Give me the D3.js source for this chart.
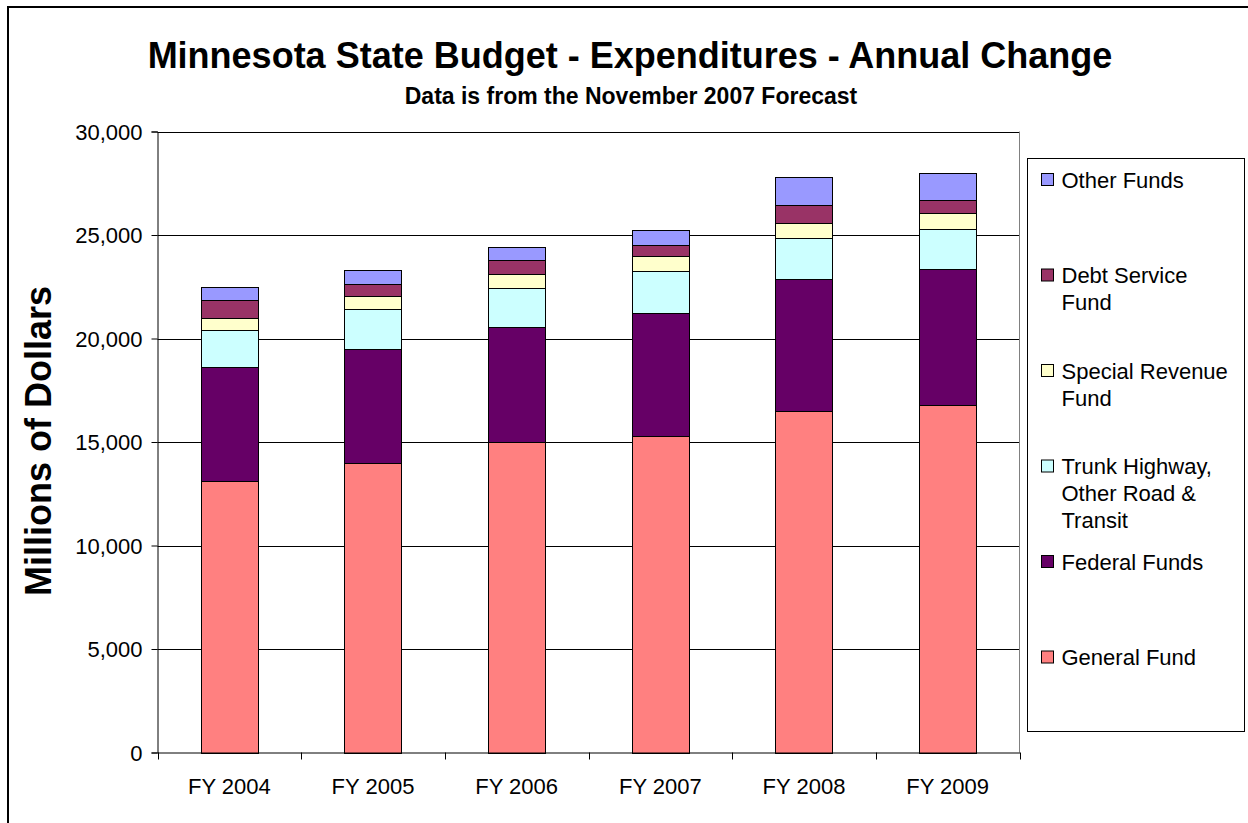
<!DOCTYPE html>
<html>
<head>
<meta charset="utf-8">
<script src="https://cdn.jsdelivr.net/npm/d3@7"></script>
<style>
  body { margin: 0; background: #fff; }
  svg text { font-family: "Liberation Sans", Arial, sans-serif; }
</style>
</head>
<body>
<div id="chart"></div>
<script>
// data (millions of dollars)
var years = ["FY 2004", "FY 2005", "FY 2006", "FY 2007", "FY 2008", "FY 2009"];
var seriesNames = ["General Fund", "Federal Funds", "Trunk Highway, Other Road & Transit",
                   "Special Revenue Fund", "Debt Service Fund", "Other Funds"];
var generalFund    = [13130, 14000, 15000, 15290, 16510, 16790];
var federalFunds   = [5510, 5495, 5573, 5946, 6355, 6588];
var trunkHighway   = [1774, 1934, 1857, 2044, 1996, 1919];
var specialRevenue = [565, 643, 706, 711, 711, 788];
var debtService    = [871, 580, 647, 517, 870, 629];
var otherFunds     = [657, 648, 658, 725, 1368, 1305];
var yTicks = [0, 5000, 10000, 15000, 20000, 25000, 30000];
// legend text, top to bottom, split the way the reference wraps it
var legendLines = [["Other Funds"], ["Debt Service", "Fund"], ["Special Revenue", "Fund"],
                   ["Trunk Highway,", "Other Road &", "Transit"], ["Federal Funds"], ["General Fund"]];

function init() {
	var w = 1248, h = 823;
	var left = 157.5, right = 1019.5, top = 131.5, bottom = 752.5;
	var colors = ["#FF8080", "#660066", "#CCFFFF", "#FFFFCC", "#993366", "#9999FF"];
	var values = [generalFund, federalFunds, trunkHighway, specialRevenue, debtService, otherFunds];

	var table = years.map(function(y, i) {
		var row = {year: y};
		seriesNames.forEach(function(s, j) { row[s] = values[j][i]; });
		return row;
	});
	var stacked = d3.stack().keys(seriesNames)(table);

	var xScale = d3.scaleBand()
		.domain(years)
		.range([left, right])
		.paddingInner(0.6)
		.paddingOuter(0.3);
	var yScale = d3.scaleLinear()
		.domain([0, 30000])
		.range([bottom, top]);

	var svg = d3.select("#chart")
		.append("svg")
		.attr("width", w)
		.attr("height", h);

	// chart area border
	svg.append("rect")
		.attr("x", 8).attr("y", 7)
		.attr("width", 1300).attr("height", 900)
		.attr("fill", "none")
		.attr("stroke", "#000")
		.attr("stroke-width", 2);

	// titles
	svg.append("text")
		.attr("x", 630).attr("y", 68)
		.attr("text-anchor", "middle")
		.attr("font-size", 36).attr("font-weight", "bold")
		.text("Minnesota State Budget - Expenditures - Annual Change");
	svg.append("text")
		.attr("x", 631).attr("y", 104)
		.attr("text-anchor", "middle")
		.attr("font-size", 23).attr("font-weight", "bold")
		.text("Data is from the November 2007 Forecast");

	// gridlines
	svg.append("g")
		.selectAll("line")
		.data(yTicks.slice(1))
		.enter()
		.append("line")
		.attr("x1", left).attr("x2", right)
		.attr("y1", function(d) { return Math.round(yScale(d)) + 0.5; })
		.attr("y2", function(d) { return Math.round(yScale(d)) + 0.5; })
		.attr("stroke", "#000")
		.attr("stroke-width", 1);

	// plot area border on the right
	svg.append("line")
		.attr("x1", right).attr("x2", right)
		.attr("y1", top).attr("y2", bottom)
		.attr("stroke", "#808080");

	// bars
	svg.selectAll("g.series")
		.data(stacked)
		.enter()
		.append("g")
		.attr("class", "series")
		.attr("fill", function(d, i) { return colors[i]; })
		.selectAll("rect")
		.data(function(d) { return d; })
		.enter()
		.append("rect")
		.attr("x", function(d) { return Math.round(xScale(d.data.year)) + 0.5; })
		.attr("y", function(d) { return Math.round(yScale(d[1])) + 0.5; })
		.attr("width", Math.round(xScale.bandwidth()))
		.attr("height", function(d) { return Math.round(yScale(d[0])) - Math.round(yScale(d[1])); })
		.attr("stroke", "#000")
		.attr("stroke-width", 1);

	// y axis
	var yAxis = d3.axisLeft(yScale)
		.tickValues(yTicks)
		.tickFormat(d3.format(","))
		.tickSize(6)
		.tickPadding(9);
	var gy = svg.append("g")
		.attr("transform", "translate(" + left + ",0)")
		.call(yAxis);
	gy.select(".domain").attr("stroke", "#000");
	gy.selectAll("text")
		.attr("font-size", 22)
		.attr("font-family", "Liberation Sans, Arial, sans-serif")
		.attr("fill", "#000")
		.attr("dy", "0.35em");

	// x axis: ticks between categories
	var xAxis = d3.axisBottom(xScale).tickSize(0).tickPadding(26);
	var gx = svg.append("g")
		.attr("transform", "translate(0," + bottom + ")")
		.call(xAxis);
	gx.select(".domain").attr("stroke", "#000");
	gx.selectAll("text")
		.attr("font-size", 22)
		.attr("font-family", "Liberation Sans, Arial, sans-serif")
		.attr("fill", "#000");
	var step = xScale.step();
	var bounds = d3.range(years.length + 1).map(function(i) { return left + i * step; });
	gx.selectAll("line.sep")
		.data(bounds)
		.enter()
		.append("line")
		.attr("class", "sep")
		.attr("x1", function(d) { return Math.round(d) + 0.5; })
		.attr("x2", function(d) { return Math.round(d) + 0.5; })
		.attr("y1", 0).attr("y2", 7)
		.attr("stroke", "#000");

	// legend
	var lx = 1027.5, ly = 158.5, lw = 217, lh = 573;
	svg.append("rect")
		.attr("x", lx).attr("y", ly)
		.attr("width", lw).attr("height", lh)
		.attr("fill", "#fff")
		.attr("stroke", "#000");
	var slot = lh / legendLines.length;
	var legendColors = colors.slice().reverse();
	var items = svg.selectAll("g.legend")
		.data(legendLines)
		.enter()
		.append("g")
		.attr("class", "legend")
		.attr("transform", function(d, i) { return "translate(" + lx + "," + (ly + i * slot + 21) + ")"; });
	items.append("rect")
		.attr("x", 14).attr("y", -6)
		.attr("width", 12).attr("height", 12)
		.attr("fill", function(d, i) { return legendColors[i]; })
		.attr("stroke", "#000");
	items.append("text")
		.attr("font-size", 22)
		.selectAll("tspan")
		.data(function(d) { return d; })
		.enter()
		.append("tspan")
		.attr("x", 34)
		.attr("y", function(d, i) { return 8 + i * 27; })
		.text(function(d) { return d; });

	// y axis title
	svg.append("text")
		.attr("transform", "translate(51,441) rotate(-90)")
		.attr("text-anchor", "middle")
		.attr("font-size", 36).attr("font-weight", "bold")
		.text("Millions of Dollars");
}

window.onload = init;
</script>
</body>
</html>
